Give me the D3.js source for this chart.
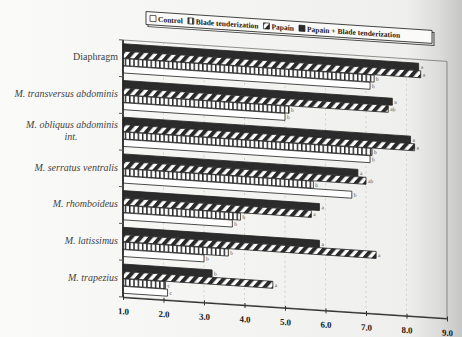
<!DOCTYPE html>
<html>
<head>
<meta charset="utf-8">
<style>
  body{margin:0;background:#fff}
  svg{display:block}
  .cat{font:italic 10px "Liberation Serif", serif;fill:#444}
  .cat.upright{font-style:normal}
  .xaxis text{font:bold 9px "Liberation Serif", serif;fill:#222}
  .legend text{font:bold 7.5px "Liberation Serif", serif;fill:#222}
  .sig{font:5.5px "Liberation Serif", serif;fill:#444}
  .bar{stroke:#222;stroke-width:0.8}
  .grid{stroke:#c4c4c4;stroke-width:0.7;stroke-dasharray:2,3}
</style>
</head>
<body>
<svg width="462" height="337"></svg>
<script src="https://d3js.org/d3.v7.min.js"></script>
<script>
// data
var categories = ["Diaphragm", "M. transversus abdominis", "M. obliquus abdominis\nint.",
  "M. serratus ventralis", "M. rhomboideus", "M. latissimus", "M. trapezius"];
var legendNames = ["Control", "Blade tenderization", "Papain", "Papain + Blade tenderization"];

var papainBlade = [8.3, 7.65, 8.1, 6.8, 5.85, 5.85, 3.2];
var papain      = [8.35, 7.55, 8.2, 7.0, 5.65, 7.25, 4.7];
var blade       = [7.2, 5.1, 7.15, 5.7, 3.9, 3.6, 2.05];
var control     = [7.1, 5.0, 7.1, 6.65, 3.7, 3.0, 2.1];

var sigPapainBlade = ["a", "a", "a", "a", "a", "a", "b"];
var sigPapain      = ["a", "ab", "a", "ab", "a", "a", "a"];
var sigBlade       = ["b", "b", "b", "b", "b", "b", "c"];
var sigControl     = ["b", "b", "b", "b", "b", "b", "c"];

var xTicks = [1, 2, 3, 4, 5, 6, 7, 8, 9];

var svg = d3.select("svg"),
    W = +svg.attr("width"), H = +svg.attr("height");

var x0 = 123, x1 = 447, yTop = 40, yBot = 297,
    k = 0.066; // the page was photographed at a slant

var defs = svg.append("defs");

var bg = defs.append("linearGradient").attr("id", "paper")
bg.append("stop").attr("offset", "0").attr("stop-color", "#fafaf8")
bg.append("stop").attr("offset", "0.88").attr("stop-color", "#efefed")
bg.append("stop").attr("offset", "0.95").attr("stop-color", "#dcdcda")
bg.append("stop").attr("offset", "1").attr("stop-color", "#c6c6c4")

var hatch = defs.append("pattern").attr("id", "hatch")
  .attr("patternUnits", "userSpaceOnUse")
  .attr("width", 7).attr("height", 7)
  .attr("patternTransform", "rotate(40)")
hatch.append("rect").attr("width", 7).attr("height", 7).attr("fill", "#fff")
hatch.append("rect").attr("width", 3.8).attr("height", 7).attr("fill", "#2a2a2a")

var vstripe = defs.append("pattern").attr("id", "vstripe")
  .attr("patternUnits", "userSpaceOnUse")
  .attr("width", 4.3).attr("height", 10)
vstripe.append("rect").attr("width", 4.3).attr("height", 10).attr("fill", "#fff")
vstripe.append("rect").attr("width", 1.5).attr("height", 10).attr("fill", "#2a2a2a")

svg.append("rect").attr("width", W).attr("height", H).attr("fill", "url(#paper)")

var series = [
  {name: "Papain + Blade tenderization", values: papainBlade, sig: sigPapainBlade, fill: "#2b2b2b"},
  {name: "Papain", values: papain, sig: sigPapain, fill: "url(#hatch)"},
  {name: "Blade tenderization", values: blade, sig: sigBlade, fill: "url(#vstripe)"},
  {name: "Control", values: control, sig: sigControl, fill: "#fff"}
];
var fillOf = {};
series.forEach(function(s) { fillOf[s.name] = s.fill });

var x = d3.scaleLinear().domain([1, 9]).range([x0, x1]);

var y = d3.scaleBand().domain(categories).range([yTop, yBot])
  .paddingInner(0.18).paddingOuter(0.09);

var ySub = d3.scaleBand().domain(series.map(function(s) { return s.name }))
  .range([0, y.bandwidth()]).padding(0.06);

var g = svg.append("g")
  .attr("transform", "matrix(1," + k + ",0,1,0," + (-k * x0) + ")");

// frame + grid
g.append("rect").attr("x", x0).attr("y", yTop)
  .attr("width", x1 - x0).attr("height", yBot - yTop)
  .attr("fill", "none").attr("stroke", "#777").attr("stroke-width", 0.8)

g.selectAll(".grid").data(xTicks.slice(1, -1)).enter().append("line")
  .attr("class", "grid")
  .attr("x1", function(d) { return x(d) }).attr("x2", function(d) { return x(d) })
  .attr("y1", yTop).attr("y2", yBot)

// bars
var groups = g.selectAll(".grp").data(categories).enter().append("g")
  .attr("class", "grp")
  .attr("transform", function(d) { return "translate(0," + y(d) + ")" });

series.forEach(function(s) {
  groups.append("rect")
    .attr("class", "bar")
    .attr("x", x(1))
    .attr("y", ySub(s.name))
    .attr("height", ySub.bandwidth())
    .attr("width", function(d, i) { return x(s.values[i]) - x(1) })
    .attr("fill", s.fill)
  groups.append("text")
    .attr("class", "sig")
    .attr("x", function(d, i) { return x(s.values[i]) + 2 })
    .attr("y", ySub(s.name) + ySub.bandwidth() / 2 + 2)
    .text(function(d, i) { return s.sig[i] })
})

// axes
var xAxis = g.append("g").attr("class", "xaxis")
  .attr("transform", "translate(0," + yBot + ")")
  .call(d3.axisBottom(x).tickValues(xTicks).tickFormat(d3.format(".1f"))
    .tickSizeInner(3).tickSizeOuter(0).tickPadding(8))
xAxis.select(".domain").attr("stroke", "#333").attr("stroke-width", 1.2)
xAxis.selectAll(".tick line").attr("stroke", "#333").attr("y1", -2)
xAxis.selectAll(".tick text").attr("fill", "#222")

g.append("line").attr("x1", x0).attr("x2", x0).attr("y1", yTop).attr("y2", yBot)
  .attr("stroke", "#222").attr("stroke-width", 1.6)

var step = y.step();
g.selectAll(".ytick").data(categories.concat([null])).enter().append("line")
  .attr("class", "ytick")
  .attr("x1", x0 - 4).attr("x2", x0)
  .attr("y1", function(d) { return d ? y(d) - step * y.paddingInner() / 2 : yBot })
  .attr("y2", function(d) { return d ? y(d) - step * y.paddingInner() / 2 : yBot })
  .attr("stroke", "#555")

// category labels (outside the slant group, they sit by the left axis)
svg.selectAll(".cat").data(categories).enter().append("text")
  .attr("class", function(d) { return d === "Diaphragm" ? "cat upright" : "cat" })
  .attr("transform", function(d) {
    var lines = d.split("\n");
    return "translate(118," + (y(d) + y.bandwidth() / 2 + 2 - (lines.length - 1) * 6) + ")"
  })
  .each(function(d) {
    var lines = d.split("\n"), t = d3.select(this);
    t.append("tspan").attr("x", 0).attr("text-anchor", "end").text(lines[0]);
    if (lines[1]) {
      t.append("tspan").attr("x", -47).attr("dy", 12).attr("text-anchor", "middle").text(lines[1]);
    }
  })

// legend
var leg = g.append("g").attr("class", "legend").attr("transform", "translate(146,10)");
leg.append("rect").attr("x", 2).attr("y", 2).attr("width", 286).attr("height", 13)
  .attr("fill", "none").attr("stroke", "#444")
leg.append("rect").attr("width", 286).attr("height", 13)
  .attr("fill", "#fafaf8").attr("stroke", "#333").attr("stroke-width", 0.9)

var lx = 4;
legendNames.forEach(function(n) {
  var item = leg.append("g").attr("transform", "translate(" + lx + ",0)");
  item.append("rect").attr("y", 3.5).attr("width", 6).attr("height", 6)
    .attr("fill", fillOf[n]).attr("stroke", "#222").attr("stroke-width", 0.7)
  var t = item.append("text").attr("x", 8).attr("y", 9.5).text(n);
  lx += 8 + t.node().getComputedTextLength() + 5;
})
</script>
</body>
</html>
